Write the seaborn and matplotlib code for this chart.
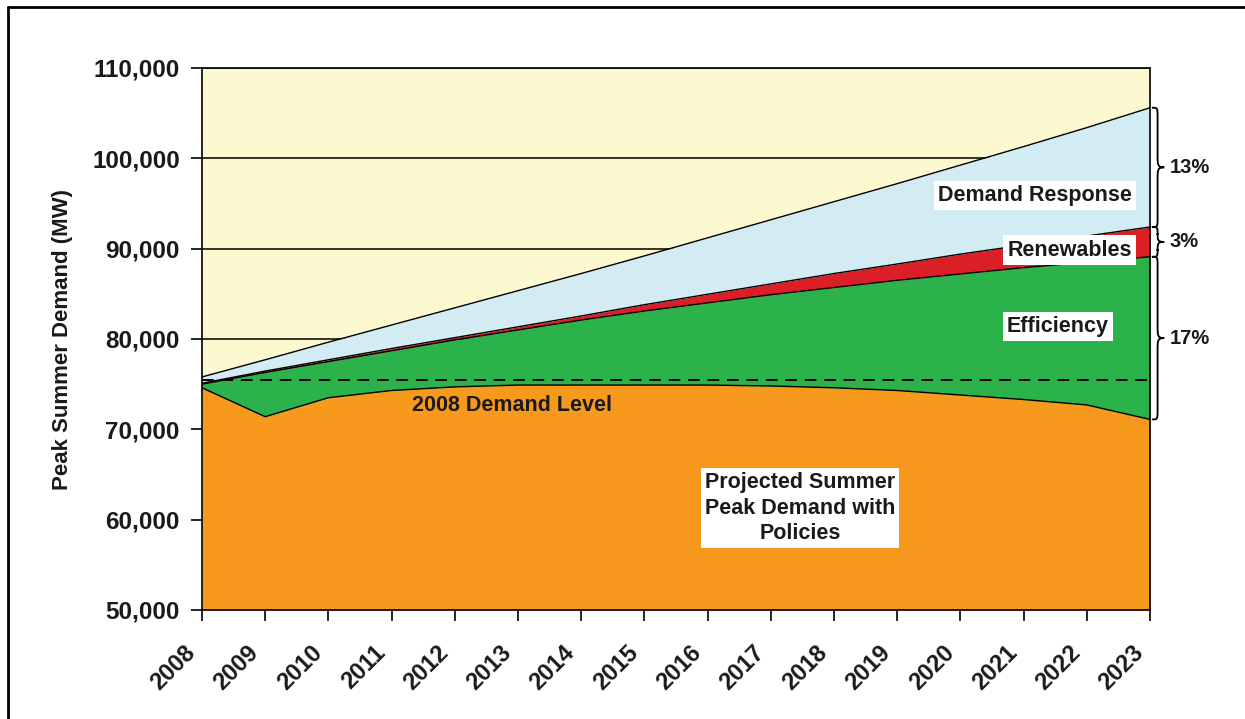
import numpy as np
import pandas as pd
import seaborn as sns
import matplotlib.pyplot as plt
import matplotlib.transforms as mtransforms
from matplotlib.path import Path
from matplotlib.patches import PathPatch
from matplotlib.lines import Line2D
from matplotlib.ticker import FuncFormatter

# Peak summer demand (MW), cumulative layer tops
years = list(range(2008, 2024))
demand_no_policies = [75800, 77700, 79650, 81550, 83450, 85350, 87250, 89200,
                      91200, 93200, 95200, 97200, 99250, 101300, 103400, 105600]
renewables_top = [75100, 76450, 77700, 78950, 80150, 81350, 82550, 83800,
                  84950, 86100, 87250, 88300, 89400, 90400, 91400, 92400]
efficiency_top = [75000, 76300, 77500, 78700, 79900, 81000, 82100, 83100,
                  84000, 84900, 85700, 86500, 87200, 87900, 88500, 89100]
with_policies = [74600, 71400, 73500, 74300, 74700, 74900, 74900, 74900,
                 74900, 74800, 74600, 74300, 73800, 73300, 72700, 71100]
demand_2008_level = 75500

share_labels = ["13%", "3%", "17%"]
y_ticks = [50000, 60000, 70000, 80000, 90000, 100000, 110000]

df = pd.DataFrame({
    "year": years,
    "total": demand_no_policies,
    "renew": renewables_top,
    "eff": efficiency_top,
    "policy": with_policies,
})

C_BG = "#FCF8D0"
C_DR = "#D3EBF3"
C_RE = "#DA1F26"
C_EF = "#2BB24B"
C_PO = "#F7991D"

sns.set_theme(style="white")
plt.rcParams["font.family"] = ["Liberation Sans", "DejaVu Sans"]
plt.rcParams["font.weight"] = "bold"

fig = plt.figure(figsize=(12.45, 7.19), dpi=100)
ax = fig.add_axes([202 / 1245, 1 - 610 / 719, 948 / 1245, 542 / 719])
ax.set_facecolor(C_BG)

ymin = y_ticks[0]
ax.fill_between(df["year"], ymin, df["policy"], color=C_PO, lw=0)
ax.fill_between(df["year"], df["policy"], df["eff"], color=C_EF, lw=0)
ax.fill_between(df["year"], df["eff"], df["renew"], color=C_RE, lw=0)
ax.fill_between(df["year"], df["renew"], df["total"], color=C_DR, lw=0)

for col in ["total", "renew", "eff", "policy"]:
    sns.lineplot(data=df, x="year", y=col, ax=ax, color="black", lw=1.0)

ax.hlines(demand_2008_level, years[0], years[-1], colors="black",
          linestyles=(0, (6, 4)), lw=1.4, zorder=3)

ax.set_xlim(years[0], years[-1])
ax.set_ylim(y_ticks[0], y_ticks[-1])
ax.set_yticks(y_ticks)
ax.set_xticks(years)
ax.yaxis.set_major_formatter(FuncFormatter(lambda v, p: f"{v:,.0f}"))
ax.yaxis.grid(True, color="black", lw=1.1)
ax.xaxis.grid(False)
ax.set_axisbelow(True)

for s in ax.spines.values():
    s.set_color("black")
    s.set_linewidth(1.2)

ax.tick_params(axis="both", direction="out", length=8, width=1.2,
               color="black", labelsize=17, labelcolor="#1a1a1a",
               bottom=True, left=True)
ax.tick_params(axis="y", labelsize=17.5, pad=8)
ax.tick_params(axis="x", pad=20)
ax.set_xticklabels([str(y) for y in years], rotation=45, ha="right",
                   va="center", rotation_mode="anchor")
shift = mtransforms.ScaledTranslation(-10 / 100, 0, fig.dpi_scale_trans)
for lbl in ax.get_xticklabels():
    lbl.set_transform(lbl.get_transform() + shift)
for lbl in ax.get_xticklabels() + ax.get_yticklabels():
    lbl.set_fontweight("bold")

ax.set_xlabel("")
ax.set_ylabel("Peak Summer Demand (MW)", fontsize=16, fontweight="bold",
              color="#1a1a1a", labelpad=14)

box = dict(facecolor="white", edgecolor="none", pad=3)
txt = dict(fontsize=15.5, fontweight="bold", color="#1a1a1a", ha="center",
           va="center", zorder=5)
ax.text(2021.18, 95900, "Demand Response", bbox=box, **txt)
ax.text(2021.73, 89850, "Renewables", bbox=box, **txt)
ax.text(2021.54, 81400, "Efficiency", bbox=box, **txt)
ax.text(2017.46, 61290, "Projected Summer\nPeak Demand with\nPolicies",
        bbox=box, linespacing=1.3, multialignment="center", **txt)
ax.text(2012.9, 72690, "2008 Demand Level", **txt)


def brace(y_lo, y_hi, label):
    trans = mtransforms.blended_transform_factory(ax.transAxes, ax.transData)
    x0, xl, xp = 1.002, 1.008, 1.015
    r = min(1000, (y_hi - y_lo) / 4)
    rm = min(1300, (y_hi - y_lo) / 3.5)
    ym = (y_lo + y_hi) / 2
    verts = [(x0, y_hi), (xl, y_hi), (xl, y_hi), (xl, y_hi - r),
             (xl, ym + rm),
             (xl, ym + rm * 0.2), (xl, ym), (xp, ym),
             (xl, ym), (xl, ym - rm * 0.2), (xl, ym - rm),
             (xl, y_lo + r),
             (xl, y_lo), (xl, y_lo), (x0, y_lo)]
    codes = [Path.MOVETO, Path.CURVE4, Path.CURVE4, Path.CURVE4,
             Path.LINETO,
             Path.CURVE4, Path.CURVE4, Path.CURVE4,
             Path.CURVE4, Path.CURVE4, Path.CURVE4,
             Path.LINETO,
             Path.CURVE4, Path.CURVE4, Path.CURVE4]
    ax.add_patch(PathPatch(Path(verts, codes), fill=False, lw=1.3,
                           ec="black", transform=trans, clip_on=False))
    ax.text(xp + 0.006, ym, label, transform=trans, va="center", ha="left",
            fontsize=14.5, fontweight="bold", color="#1a1a1a")


brace(renewables_top[-1], demand_no_policies[-1], share_labels[0])
brace(efficiency_top[-1], renewables_top[-1], share_labels[1])
brace(with_policies[-1], efficiency_top[-1], share_labels[2])

# page frame lines (left and top)
fig.add_artist(Line2D([8 / 1245, 8 / 1245], [0, 1 - 7 / 719],
                      transform=fig.transFigure, color="black", lw=2))
fig.add_artist(Line2D([8 / 1245, 1], [1 - 7 / 719, 1 - 7 / 719],
                      transform=fig.transFigure, color="black", lw=2))

fig.savefig("out.png", dpi=100)
